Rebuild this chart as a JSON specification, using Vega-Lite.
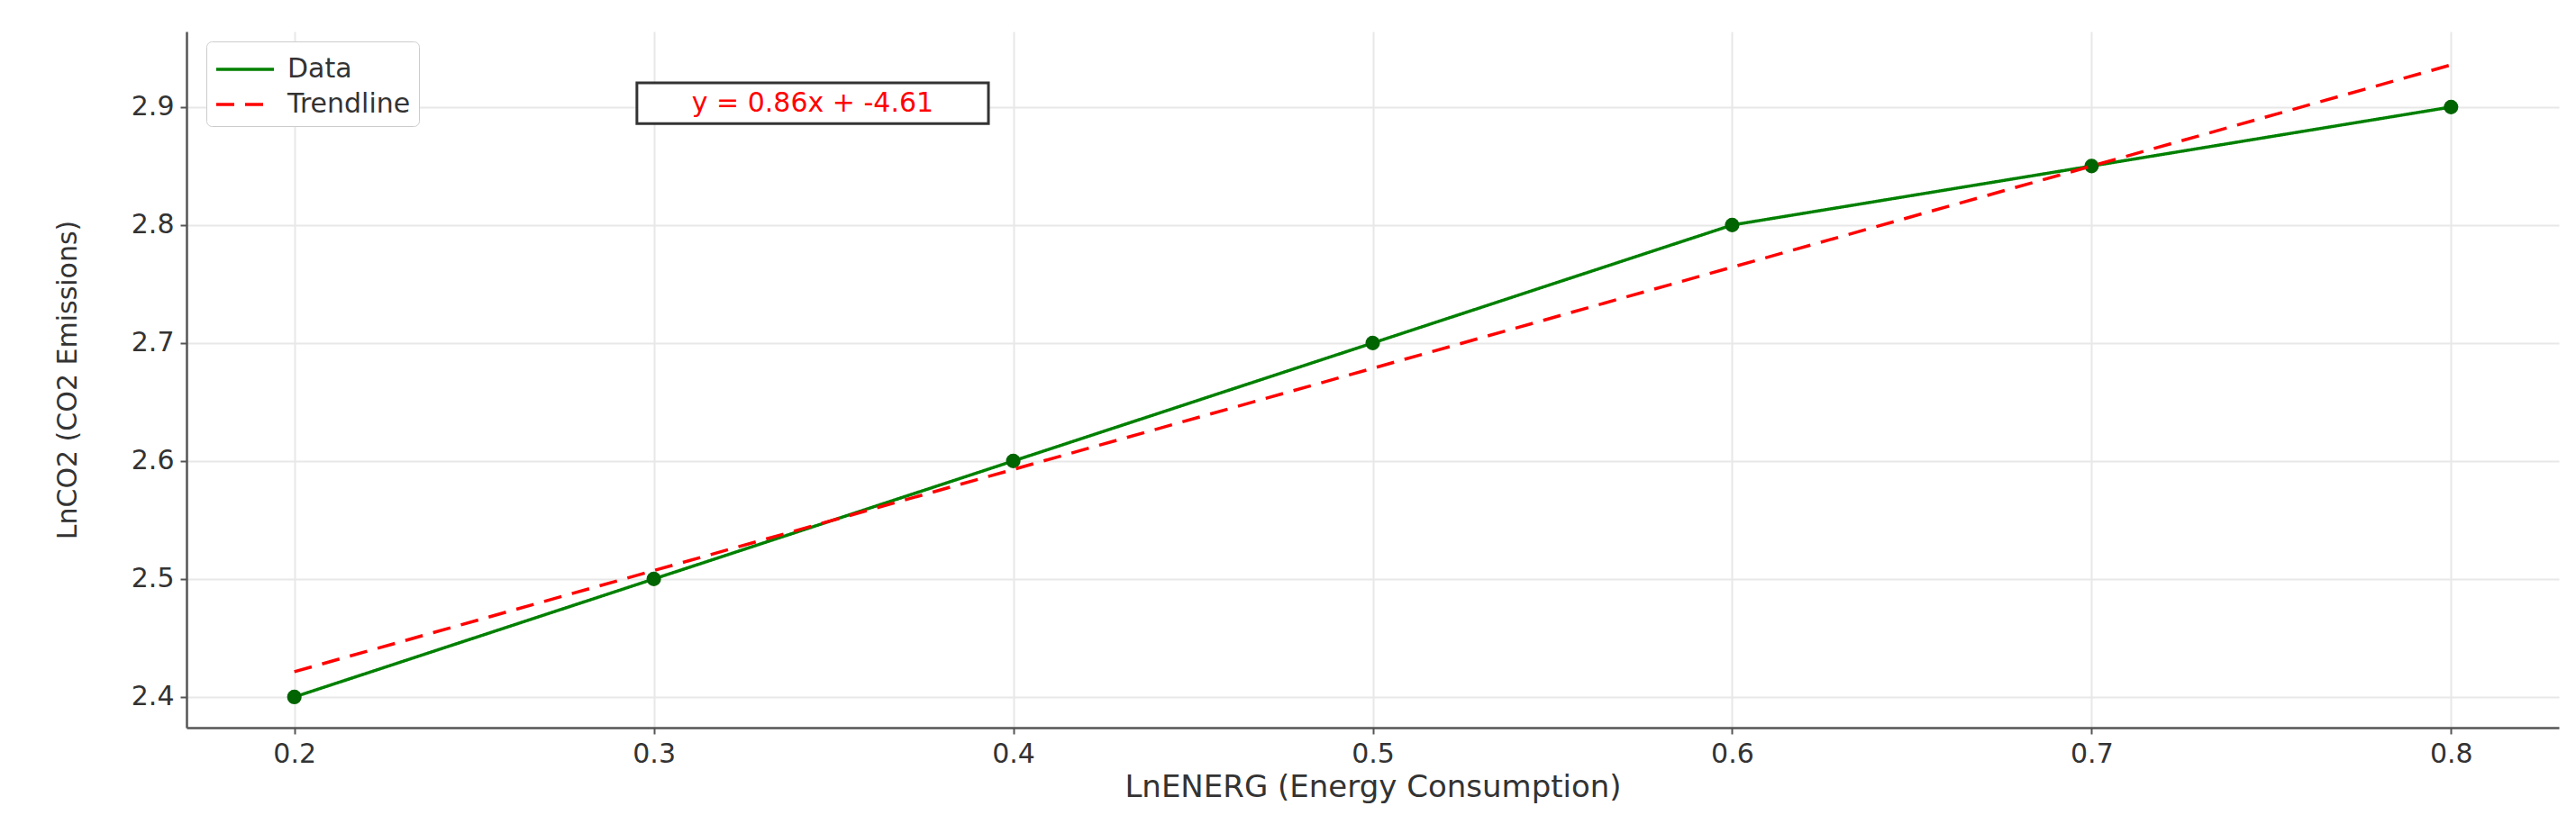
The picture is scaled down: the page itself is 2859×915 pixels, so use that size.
{
  "$schema": "https://vega.github.io/schema/vega-lite/v6.json",
  "description": "LnCO2 against LnENERG with a linear trendline.",
  "autosize": "none",
  "width": 2633,
  "height": 773,
  "padding": {"left": 207, "top": 35, "right": 19, "bottom": 107},
  "background": "white",
  "config": {
    "view": {"stroke": null},
    "font": "DejaVu Sans",
    "axis": {
      "labelFont": "DejaVu Sans",
      "titleFont": "DejaVu Sans",
      "labelFontSize": 30,
      "titleFontSize": 30,
      "titleFontWeight": "normal",
      "labelColor": "#333333",
      "titleColor": "#333333",
      "domainColor": "#555555",
      "domainWidth": 2.5,
      "tickColor": "#555555",
      "tickWidth": 2,
      "tickSize": 7,
      "labelPadding": 7,
      "gridColor": "#e8e8e8",
      "gridWidth": 2
    },
    "legend": {
      "orient": "none",
      "legendX": 22,
      "legendY": 11,
      "padding": 9,
      "cornerRadius": 6,
      "strokeColor": "#cccccc",
      "fillColor": "white",
      "labelFont": "DejaVu Sans",
      "labelFontSize": 30,
      "labelColor": "#333333",
      "labelOffset": 37,
      "rowPadding": 2,
      "symbolType": "M-1,0L2.2,0",
      "symbolSize": 1600,
      "symbolStrokeWidth": 3.5
    }
  },
  "datasets": {
    "points": [
      {"lnenerg": 0.2, "lnco2": 2.4, "series": "Data"},
      {"lnenerg": 0.3, "lnco2": 2.5, "series": "Data"},
      {"lnenerg": 0.4, "lnco2": 2.6, "series": "Data"},
      {"lnenerg": 0.5, "lnco2": 2.7, "series": "Data"},
      {"lnenerg": 0.6, "lnco2": 2.8, "series": "Data"},
      {"lnenerg": 0.7, "lnco2": 2.85, "series": "Data"},
      {"lnenerg": 0.8, "lnco2": 2.9, "series": "Data"}
    ],
    "trend": [
      {"lnenerg": 0.2, "lnco2": 2.4214, "series": "Trendline"},
      {"lnenerg": 0.8, "lnco2": 2.9357, "series": "Trendline"}
    ],
    "note": [
      {"label": "y = 0.86x + -4.61"}
    ]
  },
  "layer": [
    {
      "data": {"name": "points"},
      "mark": {"type": "line", "strokeWidth": 3.5},
      "encoding": {
        "x": {
          "field": "lnenerg", "type": "quantitative",
          "scale": {"domain": [0.17, 0.83], "nice": false, "zero": false},
          "axis": {"title": "LnENERG (Energy Consumption)", "values": [0.2, 0.3, 0.4, 0.5, 0.6, 0.7, 0.8], "format": ".1f", "titlePadding": 5, "titleFontSize": 34}
        },
        "y": {
          "field": "lnco2", "type": "quantitative",
          "scale": {"domain": [2.374, 2.964], "nice": false, "zero": false},
          "axis": {"title": "LnCO2 (CO2 Emissions)", "values": [2.4, 2.5, 2.6, 2.7, 2.8, 2.9], "format": ".1f", "titleX": -132, "titleBaseline": "middle"}
        },
        "color": {
          "field": "series", "type": "nominal",
          "scale": {"domain": ["Data", "Trendline"], "range": ["#008000", "#ff0000"]},
          "legend": {"title": null}
        },
        "strokeDash": {
          "field": "series", "type": "nominal",
          "scale": {"domain": ["Data", "Trendline"], "range": [[1, 0], [20, 12]]},
          "legend": {"title": null}
        }
      }
    },
    {
      "data": {"name": "points"},
      "mark": {"type": "point", "filled": true, "opacity": 1, "size": 260},
      "encoding": {
        "x": {"field": "lnenerg", "type": "quantitative", "scale": {"domain": [0.17, 0.83], "nice": false, "zero": false}},
        "y": {"field": "lnco2", "type": "quantitative", "scale": {"domain": [2.374, 2.964], "nice": false, "zero": false}},
        "color": {"value": "#006400"}
      }
    },
    {
      "data": {"name": "trend"},
      "mark": {"type": "line", "strokeWidth": 3.5},
      "encoding": {
        "x": {"field": "lnenerg", "type": "quantitative", "scale": {"domain": [0.17, 0.83], "nice": false, "zero": false}},
        "y": {"field": "lnco2", "type": "quantitative", "scale": {"domain": [2.374, 2.964], "nice": false, "zero": false}},
        "color": {"field": "series", "type": "nominal"},
        "strokeDash": {"field": "series", "type": "nominal"}
      }
    },
    {
      "data": {"name": "note"},
      "mark": {"type": "rect", "fill": "white", "stroke": "#333333", "strokeWidth": 3},
      "encoding": {
        "x": {"datum": 0.2953, "type": "quantitative"},
        "x2": {"datum": 0.3931},
        "y": {"datum": 2.9205, "type": "quantitative"},
        "y2": {"datum": 2.886}
      }
    },
    {
      "data": {"name": "note"},
      "mark": {"type": "text", "color": "#ff0000", "font": "DejaVu Sans", "fontSize": 30, "align": "center", "baseline": "middle"},
      "encoding": {
        "x": {"datum": 0.3442, "type": "quantitative"},
        "y": {"datum": 2.9033, "type": "quantitative"},
        "text": {"field": "label"}
      }
    }
  ]
}
